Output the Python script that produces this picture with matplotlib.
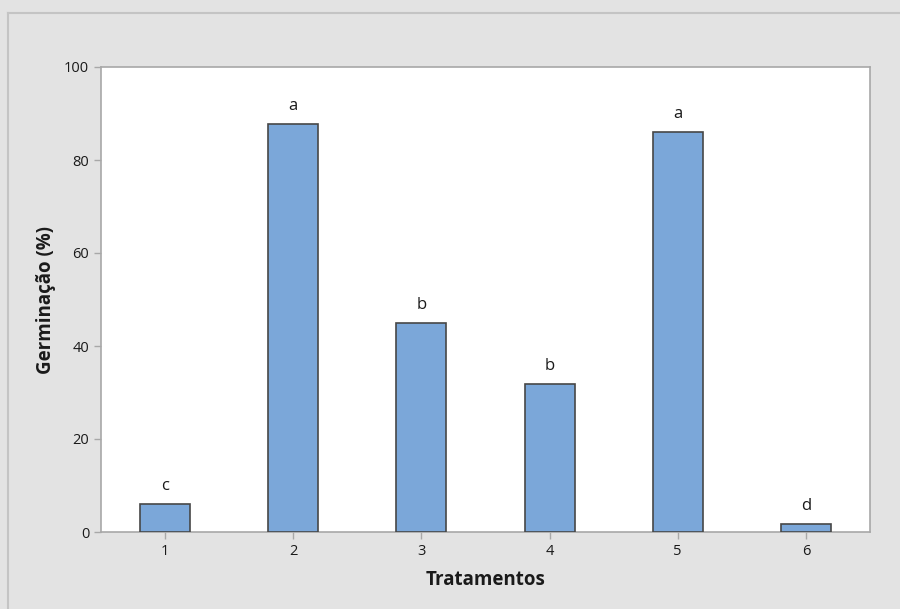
import matplotlib
matplotlib.use("Agg")
import matplotlib.pyplot as plt
from matplotlib.lines import Line2D

categories = ["1", "2", "3", "4", "5", "6"]
values = [6.0, 87.7, 45.0, 31.8, 86.0, 1.7]
letters = ["c", "a", "b", "b", "a", "d"]
yticks = [0, 20, 40, 60, 80, 100]

plt.rcParams['font.family'] = ['Open Sans', 'DejaVu Sans']

fig = plt.figure(figsize=(9, 6.09), dpi=100)
fig.patch.set_facecolor('#e3e3e3')
bx, by = 7.5/900, 1 - 12.5/609
fig.lines.append(Line2D([bx, 1], [by, by], transform=fig.transFigure, color='#c4c4c4', linewidth=1.5))
fig.lines.append(Line2D([bx, bx], [0, by], transform=fig.transFigure, color='#c4c4c4', linewidth=1.5))

ax = fig.add_axes([101/900, 1 - 532/609, (870 - 101)/900, (532 - 67)/609])
ax.set_facecolor('white')
x = list(range(1, len(categories) + 1))
ax.bar(x, values, width=0.39, color='#7ba7d9', edgecolor='#474747', linewidth=1.2, zorder=3)
for xi, v, l in zip(x, values, letters):
    ax.text(xi, v + 2.2, l, ha='center', va='bottom', fontsize=12, color='#1a1a1a')

ax.set_xlim(0.5, 6.5)
ax.set_ylim(0, 100)
ax.set_xticks(x)
ax.set_xticklabels(categories)
ax.set_yticks(yticks)
for s in ax.spines.values():
    s.set_color('#a8a8a8')
    s.set_linewidth(1.2)
ax.tick_params(axis='both', colors='#a8a8a8', labelcolor='#1a1a1a', labelsize=10.5, length=5, width=1)
ax.set_xlabel('Tratamentos', fontsize=13.5, fontweight='bold', color='#1a1a1a', labelpad=8)
ax.set_ylabel('Germinação (%)', fontsize=13.5, fontweight='bold', color='#1a1a1a', labelpad=6)

fig.savefig('out.png', dpi=100, facecolor=fig.get_facecolor())
